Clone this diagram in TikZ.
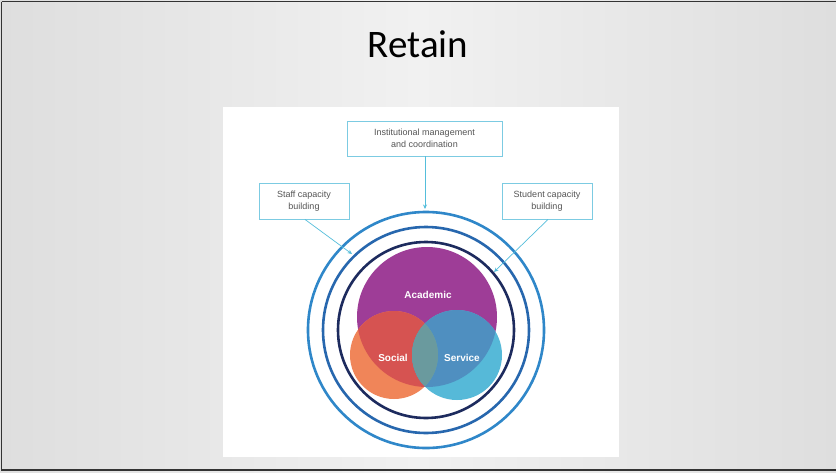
\documentclass[tikz,border=0pt]{standalone}
\usepackage{fontspec}
\setmainfont{Liberation Sans}
\newfontfamily\titlefont{Carlito}
\usetikzlibrary{arrows.meta}
\definecolor{slidebg}{HTML}{F1F1F1}
\definecolor{slideedge}{HTML}{DEDEDE}
\definecolor{frameclr}{HTML}{333333}
\definecolor{boxclr}{HTML}{7CCBE2}
\definecolor{arrclr}{HTML}{55BEDB}
\definecolor{txtgray}{HTML}{555555}
\definecolor{ringA}{HTML}{2F87C9}
\definecolor{ringB}{HTML}{2767AE}
\definecolor{ringC}{HTML}{1D2B5E}
\definecolor{acad}{HTML}{9E3D97}
\definecolor{soc}{HTML}{F08559}
\definecolor{serv}{HTML}{56B9D8}
\definecolor{socacad}{HTML}{D65351}
\definecolor{servacad}{HTML}{4F8FC0}
\definecolor{socserv}{HTML}{5FA5B6}
\definecolor{allthree}{HTML}{6A9A9E}
\tikzset{
  labelbox/.style={draw=boxclr, line width=0.9pt, fill=white, text=txtgray,
    font=\fontsize{9}{11.5}\selectfont, align=center, inner sep=0pt},
  feed/.style={draw=arrclr, line width=0.7pt, -{Stealth[length=4.5pt,width=4pt]}},
  ring/.style={line width=2.6pt},
  vlabel/.style={text=white, font=\bfseries\fontsize{10}{12}\selectfont}
}
\begin{document}
\begin{tikzpicture}[x=1pt,y=-1pt]
\useasboundingbox (0,0) rectangle (836,472);
% slide background
\shade[left color=slideedge, right color=slideedge, middle color=slidebg] (0,0) rectangle (836,472);
\draw[frameclr, line width=1.6pt] (1.5,1.5) -- (1.5,470) -- (836,470);
\draw[frameclr, line width=1.2pt] (1.5,1.5) -- (836,1.5);
% title
\node[font=\titlefont\fontsize{39}{44}\selectfont, anchor=base] (title) at (418,57) {Retain};
% white panel
\fill[white] (223,107) rectangle (619,457);
% rings
\draw[ring, ringA] (426,330) circle[radius=118];
\draw[ring, ringB] (426,330) circle[radius=103];
\draw[ring, ringC] (426,330) circle[radius=88];
% venn circles
\fill[acad] (427,317) circle[radius=70];
\fill[soc] (394,355) circle[radius=44];
\fill[serv] (457,355) circle[radius=45];
\begin{scope}
  \clip (427,317) circle[radius=70];
  \fill[socacad] (394,355) circle[radius=44];
  \fill[servacad] (457,355) circle[radius=45];
\end{scope}
\begin{scope}
  \clip (394,355) circle[radius=44];
  \fill[socserv] (457,355) circle[radius=45];
  \clip (427,317) circle[radius=70];
  \fill[allthree] (457,355) circle[radius=45];
\end{scope}
\node[vlabel] (academic) at (428,295) {Academic};
\node[vlabel] (social) at (393,358) {Social};
\node[vlabel] (service) at (462,358) {Service};
% boxes
\node[labelbox, minimum width=155pt, minimum height=35pt] (inst) at (424.5,138.5) {Institutional management\\and coordination};
\node[labelbox, minimum width=90pt, minimum height=36pt] (staff) at (304,201) {Staff capacity\\building};
\node[labelbox, minimum width=90pt, minimum height=36pt] (student) at (547,201) {Student capacity\\building};
% arrow ends
\coordinate (instend) at (425,209);
\coordinate (staffend) at (352,254);
\coordinate (studend) at (494,272);
\draw[feed] (inst.south -| instend) -- (instend);
\draw[feed] (staff.south) ++(1,0) coordinate (staffstart) -- (staffend);
\draw[feed] (student.south) ++(1,0) coordinate (studstart) -- (studend);
\end{tikzpicture}
\end{document}
